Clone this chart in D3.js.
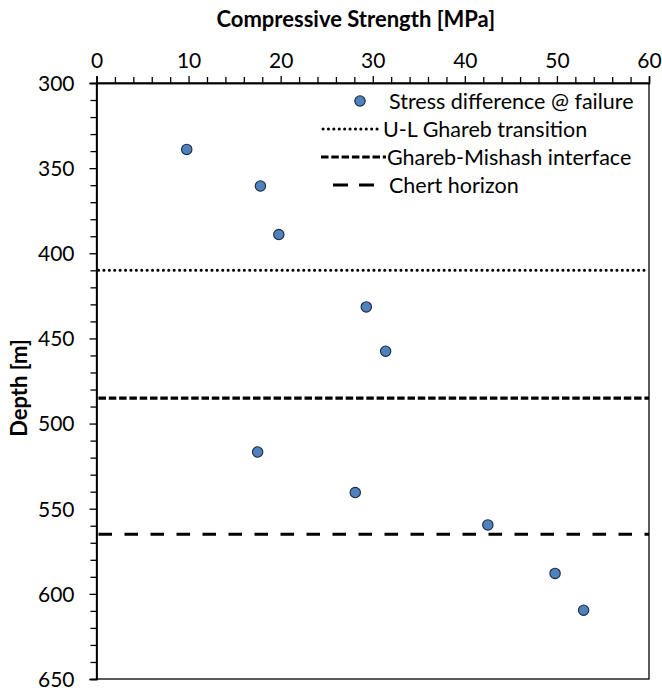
<!DOCTYPE html>
<html>
<head>
<meta charset="utf-8">
<script src="https://cdn.jsdelivr.net/npm/d3@7"></script>
<style>
  html, body { margin: 0; padding: 0; background: #fff; }
  svg { display: block; font-family: Lato, "Open Sans", sans-serif; }
</style>
</head>
<body>
<svg id="chart" width="662" height="691"></svg>
<script>
// Compressive strength (MPa) vs depth (m)
const strength = [9.8, 17.8, 19.8, 29.3, 31.4, 17.5, 28.1, 42.5, 49.8, 52.9];
const depth    = [339, 360.5, 389, 431.5, 457.5, 516.7, 540.5, 559.5, 588, 609.6];

// Horizon depths (m)
const horizonNames  = ["U-L Ghareb transition", "Ghareb-Mishash interface", "Chert horizon"];
const horizonDepths = [410, 485, 565];

const seriesName = "Stress difference @ failure";
const xTicks = [0, 10, 20, 30, 40, 50, 60];
const yTicks = [300, 350, 400, 450, 500, 550, 600, 650];

const W = 662, H = 691;
const m = { left: 96.5, right: 13, top: 83, bottom: 12 };
const svg = d3.select("#chart");

const x = d3.scaleLinear().domain([0, 60]).range([m.left, W - m.right]);
const y = d3.scaleLinear().domain([300, 650]).range([m.top, H - m.bottom]);

// line styles for the three horizons
const horizonStyle = [
  { dash: "0.1 5.3", width: 3, cap: "round" },
  { dash: "7.5 2.8", width: 3.2, cap: "butt" },
  { dash: "13.5 12.5", width: 3.2, cap: "butt" }
];

// plot frame (right and bottom edges)
svg.append("rect")
  .attr("x", x(0)).attr("y", y(300))
  .attr("width", x(60) - x(0)).attr("height", y(650) - y(300))
  .attr("fill", "none").attr("stroke", "#000").attr("stroke-width", 1.3);

// axes
const xAxis = svg.append("g").attr("transform", `translate(0,${y(300)})`)
  .call(d3.axisTop(x).tickValues(xTicks).tickSize(7).tickPadding(8).tickFormat(d3.format("d")));
const xMinor = svg.append("g").attr("transform", `translate(0,${y(300)})`)
  .call(d3.axisTop(x).tickValues(d3.range(0, 61, 2).filter(v => v % 10 !== 0)).tickSize(6).tickFormat(""));

const yAxis = svg.append("g").attr("transform", `translate(${x(0)},0)`)
  .call(d3.axisLeft(y).tickValues(yTicks).tickSize(7).tickPadding(15).tickFormat(d3.format("d")));
const yMinor = svg.append("g").attr("transform", `translate(${x(0)},0)`)
  .call(d3.axisLeft(y).tickValues(d3.range(300, 651, 10).filter(v => v % 50 !== 0)).tickSize(6).tickFormat(""));

[xAxis, xMinor, yAxis, yMinor].forEach(g => {
  g.selectAll(".domain").attr("stroke", "#000").attr("stroke-width", 1.3);
  g.selectAll(".tick line").attr("stroke", "#000").attr("stroke-width", 1.3);
  g.selectAll(".tick text").attr("fill", "#000").style("font-size", "21px").style("font-family", "Lato, sans-serif");
});
yAxis.selectAll(".tick text").attr("dy", "0.35em");

// axis titles
svg.append("text")
  .attr("x", (x(0) + x(60)) / 2 - 17).attr("y", 27)
  .attr("text-anchor", "middle")
  .style("font-size", "22px").style("font-weight", "bold")
  .text("Compressive Strength [MPa]");

svg.append("text")
  .attr("transform", `translate(27,${(y(300) + y(650)) / 2 + 7}) rotate(-90)`)
  .attr("text-anchor", "middle")
  .style("font-size", "22px").style("font-weight", "bold")
  .text("Depth [m]");

// horizon lines
svg.append("g").selectAll("line")
  .data(horizonDepths)
  .join("line")
  .attr("x1", x(0) + 2).attr("x2", x(60))
  .attr("y1", d => y(d)).attr("y2", d => y(d))
  .attr("stroke", "#000")
  .attr("stroke-width", (d, i) => horizonStyle[i].width)
  .attr("stroke-dasharray", (d, i) => horizonStyle[i].dash)
  .attr("stroke-linecap", (d, i) => horizonStyle[i].cap);

// data points
svg.append("g").selectAll("circle")
  .data(strength.map((s, i) => [s, depth[i]]))
  .join("circle")
  .attr("cx", d => x(d[0])).attr("cy", d => y(d[1]))
  .attr("r", 5.2)
  .attr("fill", "#4F81BD").attr("stroke", "#1a2a40").attr("stroke-width", 1.1);

// legend
const leg = svg.append("g").style("font-size", "21.5px");
const rowY = [101, 129, 157, 185];
const textX = [389, 383, 387, 389];

leg.append("circle").attr("cx", 360).attr("cy", rowY[0]).attr("r", 5.2)
  .attr("fill", "#4F81BD").attr("stroke", "#1a2a40").attr("stroke-width", 1.1);
leg.append("text").attr("x", textX[0]).attr("y", rowY[0]).attr("dy", "0.35em").text(seriesName);

const sampleX = [[323, 378], [321, 386], [333, 374]];
horizonNames.forEach((name, i) => {
  leg.append("line")
    .attr("x1", sampleX[i][0]).attr("x2", sampleX[i][1])
    .attr("y1", rowY[i + 1]).attr("y2", rowY[i + 1])
    .attr("stroke", "#000")
    .attr("stroke-width", horizonStyle[i].width)
    .attr("stroke-dasharray", i === 2 ? "15 11" : horizonStyle[i].dash)
    .attr("stroke-linecap", horizonStyle[i].cap);
  leg.append("text").attr("x", textX[i + 1]).attr("y", rowY[i + 1]).attr("dy", "0.35em").text(name);
});
</script>
</body>
</html>
